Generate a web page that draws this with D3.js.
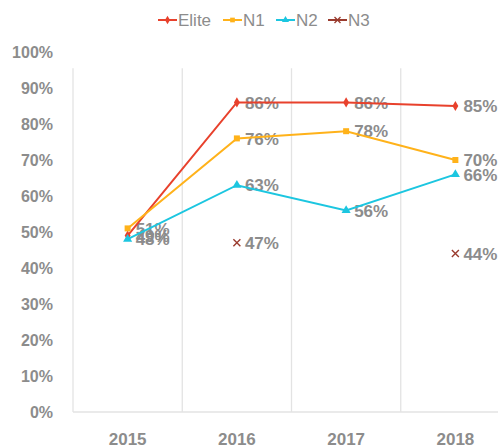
<!DOCTYPE html>
<html><head><meta charset="utf-8">
<script src="https://cdn.jsdelivr.net/npm/d3@7/dist/d3.min.js"></script>
<style>body{margin:0;background:#fff;}svg{display:block;}</style>
</head><body>
<svg id="c" width="498" height="448"></svg>
<script>
const years = ["2015","2016","2017","2018"];
const eliteValues = [0.49, 0.86, 0.86, 0.85];
const n1Values = [0.51, 0.76, 0.78, 0.70];
const n2Values = [0.48, 0.63, 0.56, 0.66];
const n3Values = [null, 0.47, null, 0.44];
const seriesNames = ["Elite","N1","N2","N3"];
const yTicks = [0,0.1,0.2,0.3,0.4,0.5,0.6,0.7,0.8,0.9,1.0];

const colors = {Elite:"#E8412C", N1:"#FFB21A", N2:"#1CC6E0", N3:"#9A3B2E"};
const symbols = {Elite:d3.symbolDiamond, N1:d3.symbolSquare, N2:d3.symbolTriangle, N3:d3.symbolCross};
const series = [
  {name:"Elite", values:eliteValues},
  {name:"N1", values:n1Values},
  {name:"N2", values:n2Values},
  {name:"N3", values:n3Values}
];
const txt = "#8c8c8c";
const font = "'Liberation Sans', Arial, sans-serif";

const svg = d3.select("#c");
const x = d3.scaleBand().domain(years).range([73, 510]);
const y = d3.scaleLinear().domain([0,1]).range([412, 52]);

// gridlines (vertical category boundaries)
const grid = svg.append("g");
years.forEach((yr,i)=>{
  grid.append("line").attr("x1", x(yr)).attr("x2", x(yr))
    .attr("y1", y(0.955)).attr("y2", y(0)).attr("stroke","#e3e3e3").attr("stroke-width",1.3);
});
grid.append("line").attr("x1", x.range()[0]).attr("x2", 498).attr("y1", y(0)).attr("y2", y(0))
  .attr("stroke","#e3e3e3").attr("stroke-width",1.3);

// y axis
const yAxis = svg.append("g").attr("transform","translate(53,0)")
  .call(d3.axisLeft(y).tickValues(yTicks).tickFormat(d3.format(".0%")).tickSize(0).tickPadding(0));
yAxis.select(".domain").remove();
yAxis.selectAll("text").attr("fill",txt).style("font-family",font).style("font-weight","bold")
  .style("font-size","16px").attr("dy","0.36em");

// x axis
const xAxis = svg.append("g").attr("transform","translate(0,"+(y(0))+")")
  .call(d3.axisBottom(x).tickSize(0).tickPadding(21));
xAxis.select(".domain").remove();
xAxis.selectAll("text").attr("fill",txt).style("font-family",font).style("font-weight","bold")
  .style("font-size","17px");

const cx = d => x(d) + x.bandwidth()/2;

// data labels
const labels = svg.append("g");
series.forEach(s=>{
  s.values.forEach((v,i)=>{
    if (v==null) return;
    labels.append("text").attr("x", cx(years[i]) + 8).attr("y", y(v)).attr("dy","0.36em")
      .attr("fill",txt).style("font-family",font).style("font-weight","bold").style("font-size","17px")
      .text(d3.format(".0%")(v));
  });
});

// lines & markers
const line = d3.line().defined(d=>d.v!=null).x(d=>cx(d.yr)).y(d=>y(d.v));
series.forEach(s=>{
  const pts = s.values.map((v,i)=>({yr:years[i], v}));
  if (s.name !== "N3") {
    svg.append("path").datum(pts).attr("d", line).attr("fill","none")
      .attr("stroke", colors[s.name]).attr("stroke-width", 2);
  }
  pts.filter(p=>p.v!=null).forEach(p=>{
    drawMarker(svg, s.name, cx(p.yr), y(p.v));
  });
});

function drawMarker(g, name, px, py){
  if (name==="N3"){
    const r=3.5;
    g.append("path").attr("d",`M${px-r},${py-r}L${px+r},${py+r}M${px-r},${py+r}L${px+r},${py-r}`)
      .attr("stroke",colors[name]).attr("stroke-width",1.4).attr("fill","none");
    return;
  }
  const size = name==="Elite"?30:(name==="N1"?36:36);
  g.append("path").attr("d", d3.symbol().type(symbols[name]).size(size)())
    .attr("transform",`translate(${px},${py})`).attr("fill",colors[name]);
}

// legend
const legX = [158, 223, 276, 328];
const leg = svg.append("g");
seriesNames.forEach((n,i)=>{
  const lx = legX[i], ly = 20;
  leg.append("line").attr("x1",lx).attr("x2",lx+19).attr("y1",ly).attr("y2",ly)
    .attr("stroke",colors[n]).attr("stroke-width",2);
  if (n==="N3"){
    const r=3, px=lx+9.5;
    leg.append("path").attr("d",`M${px-r},${ly-r}L${px+r},${ly+r}M${px-r},${ly+r}L${px+r},${ly-r}`)
      .attr("stroke",colors[n]).attr("stroke-width",1.3);
  } else {
    leg.append("path").attr("d", d3.symbol().type(symbols[n]).size(22)())
      .attr("transform",`translate(${lx+9.5},${ly})`).attr("fill",colors[n]);
  }
  leg.append("text").attr("x", lx+20).attr("y", ly).attr("dy","0.36em")
    .attr("fill",txt).style("font-family",font).style("font-size","17px").text(n);
});
</script>
</body></html>
